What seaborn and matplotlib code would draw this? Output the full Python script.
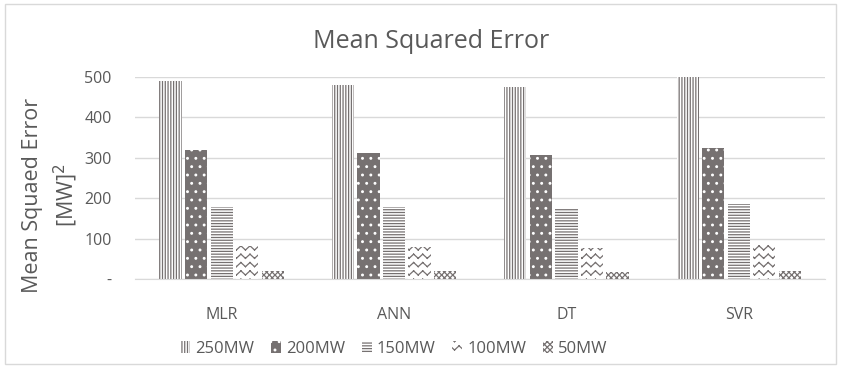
import numpy as np
import pandas as pd
import matplotlib
matplotlib.use("Agg")
import matplotlib.pyplot as plt
import matplotlib.hatch as mhatch
from matplotlib.path import Path
import seaborn as sns

models = ["MLR", "ANN", "DT", "SVR"]
series = ["250MW", "200MW", "150MW", "100MW", "50MW"]
mse_250 = [491, 480, 476, 500]
mse_200 = [319, 311, 307, 325]
mse_150 = [179, 178, 173, 186]
mse_100 = [82, 80, 77, 84]
mse_50 = [20, 20, 18, 20]
yticks = [0, 100, 200, 300, 400, 500]
ytick_labels = ["-", "100", "200", "300", "400", "500"]


# custom wavy (zigzag) hatch '~', drawn as separate stroke segments
class WaveHatch(mhatch.HatchPatternBase):
    def __init__(self, hatch, density):
        self.num_lines = int(hatch.count('~') * density)
        self.nseg = 22
        self.num_vertices = self.num_lines * self.nseg * 2

    def set_vertices_and_codes(self, vertices, codes):
        if self.num_lines == 0:
            return
        k = 0
        step = 1.0 / self.num_lines
        amp = 0.5 * step

        def pt(y0, j):
            return (j / self.nseg, y0 + (amp if j % 2 else 0.0))

        for i in range(self.num_lines):
            y0 = i * step
            for j in range(self.nseg):
                vertices[k] = pt(y0, j)
                codes[k] = Path.MOVETO
                vertices[k + 1] = pt(y0, j + 1)
                codes[k + 1] = Path.LINETO
                k += 2


mhatch._hatch_types.append(WaveHatch)
mhatch._validate_hatch_pattern = lambda h: None

plt.rcParams['font.family'] = ['Open Sans', 'DejaVu Sans']
plt.rcParams['hatch.linewidth'] = 0.9

df = pd.DataFrame({
    "model": models * 5,
    "series": sum([[s] * 4 for s in series], []),
    "value": mse_250 + mse_200 + mse_150 + mse_100 + mse_50,
})

fig = plt.figure(figsize=(8.41, 3.68), dpi=100)
fig.patch.set_facecolor("white")
ax = fig.add_axes([0.161, 0.242, 0.82, 0.549])

sns.barplot(data=df, x="model", y="value", hue="series", order=models,
            hue_order=series, ax=ax, width=0.74, gap=0.13, legend=False,
            palette=["white"] * 5, saturation=1)

gray = "#767171"
styles = [
    dict(face="white", edge=gray, hatch="||||||"),
    dict(face=gray, edge="white", hatch=".."),
    dict(face="white", edge=gray, hatch="------"),
    dict(face="white", edge=gray, hatch="~~"),
    dict(face="white", edge=gray, hatch="xxxxxx"),
]
for cont, st in zip(ax.containers, styles):
    for p in cont.patches:
        p.set_facecolor(st["face"])
        p.set_edgecolor(st["edge"])
        p.set_hatch(st["hatch"])
        p.set_linewidth(0)

ax.set_ylim(0, 500)
ax.set_yticks(yticks)
ax.set_yticklabels(ytick_labels)
ax.set_xlim(-0.5, 3.5)
ax.yaxis.grid(True, color="#d9d9d9", linewidth=1)
ax.set_axisbelow(True)
for s in ["top", "right", "left"]:
    ax.spines[s].set_visible(False)
ax.spines["bottom"].set_color("#d9d9d9")
ax.tick_params(axis="both", length=0, colors="#595959", labelsize=11.5)
ax.tick_params(axis="x", pad=20)
ax.tick_params(axis="y", pad=17)
ax.set_xlabel("")
ax.set_ylabel("")

fig.text(0.513, 1 - 41 / 368, "Mean Squared Error", fontsize=18,
         color="#595959", ha="center", va="center")
fig.text(51 / 841, 1 - 195 / 368, "Mean Squaed Error\n[MW]$^2$", fontsize=15.5,
         color="#595959", rotation=90, ha="center", va="center",
         multialignment="center", linespacing=1.4)

leg = fig.legend(ax.containers, series, loc="center",
                 bbox_to_anchor=(394 / 841, 1 - 349 / 368), ncol=5, frameon=False,
                 fontsize=12, handlelength=0.6, handleheight=0.7,
                 handletextpad=0.3, columnspacing=1.0, labelcolor="#595959",
                 borderpad=0, borderaxespad=0)

fig.add_artist(plt.Rectangle((0.006, 0.01), 0.988, 0.98, transform=fig.transFigure,
                             fill=False, edgecolor="#d9d9d9", linewidth=1))

fig.savefig("out.png", dpi=100)
